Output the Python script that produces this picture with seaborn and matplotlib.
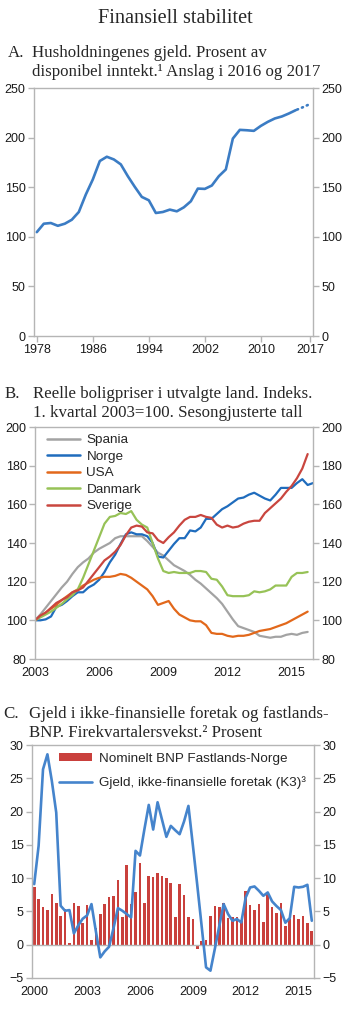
import matplotlib
matplotlib.use("Agg")
import matplotlib.pyplot as plt
from matplotlib.lines import Line2D
from matplotlib.patches import Patch
import numpy as np
import pandas as pd
import seaborn as sns

# A. Husholdningenes gjeld, prosent av disponibel inntekt
aar = list(range(1978, 2016))
gjeld = [104.7, 113.2, 113.9, 111.1, 113.2, 117.2, 125.0, 142.6, 157.8, 176.4,
         180.7, 178.0, 173.0, 161.1, 150.3, 140.2, 136.8, 124.0, 125.0, 127.4,
         125.7, 129.7, 135.8, 148.6, 148.3, 151.7, 161.1, 167.9, 199.0, 207.8,
         207.4, 206.8, 211.8, 215.9, 219.3, 221.3, 224.3, 227.7]
aar_anslag = [2015, 2016, 2017]
gjeld_anslag = [227.7, 230.6, 233.8]

# B. Reelle boligpriser, kvartalstall fra 1. kv. 2003
spania = [100, 103, 106.5, 110, 113.5, 117, 120, 124, 127.5, 130, 132, 135, 137,
          138.5, 140, 142.5, 143.5, 143.5, 143.5, 143.5, 143.5, 141, 138, 135,
          133.5, 131, 128.5, 127, 125.5, 123.5, 121, 119, 116.5, 114, 111.5,
          108.5, 104.5, 100.5, 97, 96, 95, 94, 92, 91.5, 91, 91.5, 91.5, 92.5,
          93, 92.5, 93.5, 94]
norge = [100, 100, 100.5, 102, 107, 108, 110, 112.5, 114.5, 114.5, 117, 118.5,
         121, 125, 130, 134, 139.5, 144.5, 145.5, 144.5, 144.5, 143.5, 140, 133,
         132.5, 136, 139.5, 142.5, 142.5, 146.5, 146, 148, 152.5, 152.5, 155,
         157.5, 159, 161, 163, 163.5, 165, 166, 164.5, 163, 162, 165, 168.5,
         168.5, 168.5, 171, 173, 170, 171]
usa = [100, 102, 104, 106, 108, 110.5, 112.5, 114.5, 116, 118, 119.5, 121, 122,
       122.5, 122.5, 123, 124, 123.5, 122, 120, 118, 116, 112.5, 108, 109, 110,
       106, 103, 101.5, 100, 99.5, 99.5, 97.5, 93.5, 93, 93, 92, 91.5, 92, 92,
       92.5, 93.5, 94.5, 95, 95.5, 96.5, 97.5, 98.5, 100, 101.5, 103, 104.5]
danmark = [100, 101.5, 103, 104.5, 106.5, 108.5, 111, 113, 116, 122, 129, 136,
           143, 150, 153.5, 154, 155.5, 155, 156.5, 152, 149.5, 148, 140, 132,
           125.5, 124.5, 125, 124.5, 124.5, 124.5, 125.5, 125.5, 125, 121.5,
           121, 117.5, 113, 112.5, 112.5, 112.5, 113, 115, 114.5, 115, 116,
           118, 118, 118, 122.5, 124.5, 124.5, 125]
sverige = [100, 102.5, 104, 106.5, 109, 110.5, 112, 114.5, 115.5, 117, 120.5,
           124, 127.5, 131, 133, 135.5, 139, 144, 148, 149, 148.5, 145.5, 145,
           141.5, 140, 143, 145.5, 149, 152, 153.5, 153.5, 154.5, 153.5, 153,
           149.5, 148, 149, 148, 148.5, 150, 151, 151.5, 151.5, 155.5, 158,
           160.5, 163, 166.5, 169.5, 173.5, 178.5, 186]
land = ["Spania", "Norge", "USA", "Danmark", "Sverige"]
farger_b = ["#a3a3a3", "#1f6cbd", "#e2681b", "#97c257", "#c9463f"]

# C. Firekvartalersvekst, kvartalstall fra 1. kv. 2000
bnp = [8.6, 6.9, 5.6, 5.2, 7.55, 6.2, 4.25, 5.3, 0.3, 6.3, 5.8, 3.2, 6.0, 0.7,
       2.5, 4.6, 6.1, 7.1, 7.25, 9.7, 4.2, 12.0, 6.1, 7.85, 12.3, 6.2, 10.25,
       10.1, 10.7, 10.35, 10.0, 9.2, 4.2, 9.1, 7.45, 4.1, 3.9, -0.65, 0.6, 0.7,
       4.35, 5.75, 5.7, 6.25, 4.0, 4.2, 4.1, 3.6, 8.1, 6.0, 5.2, 6.1, 3.4,
       7.75, 5.6, 4.75, 6.2, 2.8, 3.9, 4.5, 3.8, 4.35, 3.2, 2.1]
gjeld_foretak = [9.1, 14.85, 26.35, 28.6, 24.6, 19.85, 5.85, 5.1, 5.2, 1.7, 2.9,
                 3.9, 4.4, 6.1, 2.0, -1.9, -1.0, -0.3, 2.5, 5.5, 5.1, 4.6, 4.1,
                 14.1, 13.4, 17.3, 21.0, 17.3, 21.4, 18.8, 16.2, 17.85, 17.2,
                 16.6, 18.5, 20.85, 15.0, 9.0, 2.8, -3.4, -3.9, -0.6, 2.8, 6.1,
                 4.6, 3.6, 3.85, 3.35, 7.1, 8.6, 8.75, 8.1, 7.35, 7.85, 6.5, 5.8,
                 5.2, 3.3, 4.0, 8.7, 8.6, 8.7, 9.0, 3.6]

sns.set_style("white")
plt.rcParams["font.family"] = ["Liberation Sans", "DejaVu Sans"]
serif = ["Liberation Serif", "DejaVu Serif"]
grey = "#b5b5b5"
tfs = 12.2

W, H = 350, 1010
fig = plt.figure(figsize=(W / 100, H / 100), dpi=100)


def px_axes(left, top, right, bottom):
    return fig.add_axes([left / W, 1 - bottom / H, (right - left) / W, (bottom - top) / H])


def style(ax, xticks_on=True):
    for s in ax.spines.values():
        s.set_color(grey)
        s.set_linewidth(1)
    ax.tick_params(axis="y", left=True, right=True, labelleft=True, labelright=True,
                   length=4, width=1, color=grey, labelsize=9, pad=2, labelcolor="#1a1a1a")
    ax.tick_params(axis="x", bottom=xticks_on, length=4, width=1, color=grey,
                   labelsize=9, pad=2, labelcolor="#1a1a1a")
    ax.set_xlabel("")
    ax.set_ylabel("")


def panel_title(letter, lines, x_letter, x_text, base1, base2):
    fig.text(x_letter / W, 1 - base1 / H, letter, family=serif, fontsize=tfs, va="baseline")
    fig.text(x_text / W, 1 - base1 / H, lines[0], family=serif, fontsize=tfs, va="baseline")
    fig.text(x_text / W, 1 - base2 / H, lines[1], family=serif, fontsize=tfs, va="baseline")


fig.text(0.5, 1 - 23 / H, "Finansiell stabilitet", family=serif, fontsize=14.6,
         ha="center", va="baseline")

# ---- Panel A
panel_title("A.", ["Husholdningenes gjeld. Prosent av",
                   "disponibel inntekt.¹ Anslag i 2016 og 2017"], 8, 32, 57, 76)
axA = px_axes(34, 88, 313, 336)
dfA = pd.DataFrame({"aar": aar, "gjeld": gjeld})
dfA2 = pd.DataFrame({"aar": aar_anslag, "gjeld": gjeld_anslag})
sns.lineplot(data=dfA, x="aar", y="gjeld", ax=axA, color="#3b7cc4", linewidth=1.9)
sns.lineplot(data=dfA2, x="aar", y="gjeld", ax=axA, color="#3b7cc4", linewidth=1.9,
             linestyle=(1.5, (0.4, 1.6)))
axA.lines[-1].set_dash_capstyle("round")
axA.set_xlim(1977.6, 2017.45)
axA.set_ylim(0, 250)
axA.set_yticks(range(0, 251, 50))
axA.set_xticks([1978, 1986, 1994, 2002, 2010, 2017])
style(axA)

# ---- Panel B
panel_title("B.", ["Reelle boligpriser i utvalgte land. Indeks.",
                   "1. kvartal 2003=100. Sesongjusterte tall"], 5, 33, 398, 417)
axB = px_axes(35, 427, 313, 659)
serier = [spania, norge, usa, danmark, sverige]
rows = []
for navn, verdier in zip(land, serier):
    for k, v in enumerate(verdier):
        rows.append({"tid": 2003 + k / 4, "indeks": v, "land": navn})
dfB = pd.DataFrame(rows)
sns.lineplot(data=dfB, x="tid", y="indeks", hue="land", hue_order=land,
             palette=farger_b, ax=axB, linewidth=1.6, legend=False)
axB.set_xlim(2003, 2016)
axB.set_ylim(80, 200)
axB.set_yticks(range(80, 201, 20))
axB.set_xticks([2003, 2006, 2009, 2012, 2015])
style(axB, xticks_on=False)
handlesB = [Line2D([], [], color=c, lw=1.8) for c in farger_b]
axB.legend(handlesB, land, loc="upper left", bbox_to_anchor=(0.042, 0.97),
           frameon=False, fontsize=9.7, handlelength=2.5, handletextpad=0.45,
           labelspacing=0.3, borderpad=0, borderaxespad=0)

# ---- Panel C
panel_title("C.", ["Gjeld i ikke-finansielle foretak og fastlands-",
                   "BNP. Firekvartalersvekst.² Prosent"], 3, 29, 718, 737)
axC = px_axes(32, 745, 314, 978)
tidC = [2000 + q / 4 for q in range(len(bnp))]
dfC = pd.DataFrame({"tid": tidC, "bnp": bnp, "gjeld": gjeld_foretak})
sns.barplot(data=dfC, x="tid", y="bnp", ax=axC, native_scale=True, color="#c9403c",
            width=0.6, errorbar=None, saturation=1, edgecolor="none")
axC.axhline(0, color=grey, lw=1, zorder=1)
sns.lineplot(data=dfC, x="tid", y="gjeld", ax=axC, color="#4584cc", linewidth=1.9)
axC.set_xlim(1999.875, 2015.875)
axC.set_ylim(-5, 30)
axC.set_yticks(range(-5, 31, 5))
axC.set_xticks([2000, 2003, 2006, 2009, 2012, 2015])
axC.set_xticklabels(["2000", "2003", "2006", "2009", "2012", "2015"])
style(axC, xticks_on=False)
handlesC = [Patch(facecolor="#c9403c", edgecolor="none"),
            Line2D([], [], color="#4584cc", lw=1.9)]
axC.legend(handlesC, ["Nominelt BNP Fastlands-Norge", "Gjeld, ikke-finansielle foretak (K3)³"],
           loc="upper left", bbox_to_anchor=(0.095, 0.965), frameon=False, fontsize=9.7,
           handlelength=2.45, handleheight=0.55, handletextpad=0.5, labelspacing=0.85,
           borderpad=0, borderaxespad=0)

fig.savefig("out.png", dpi=100)
